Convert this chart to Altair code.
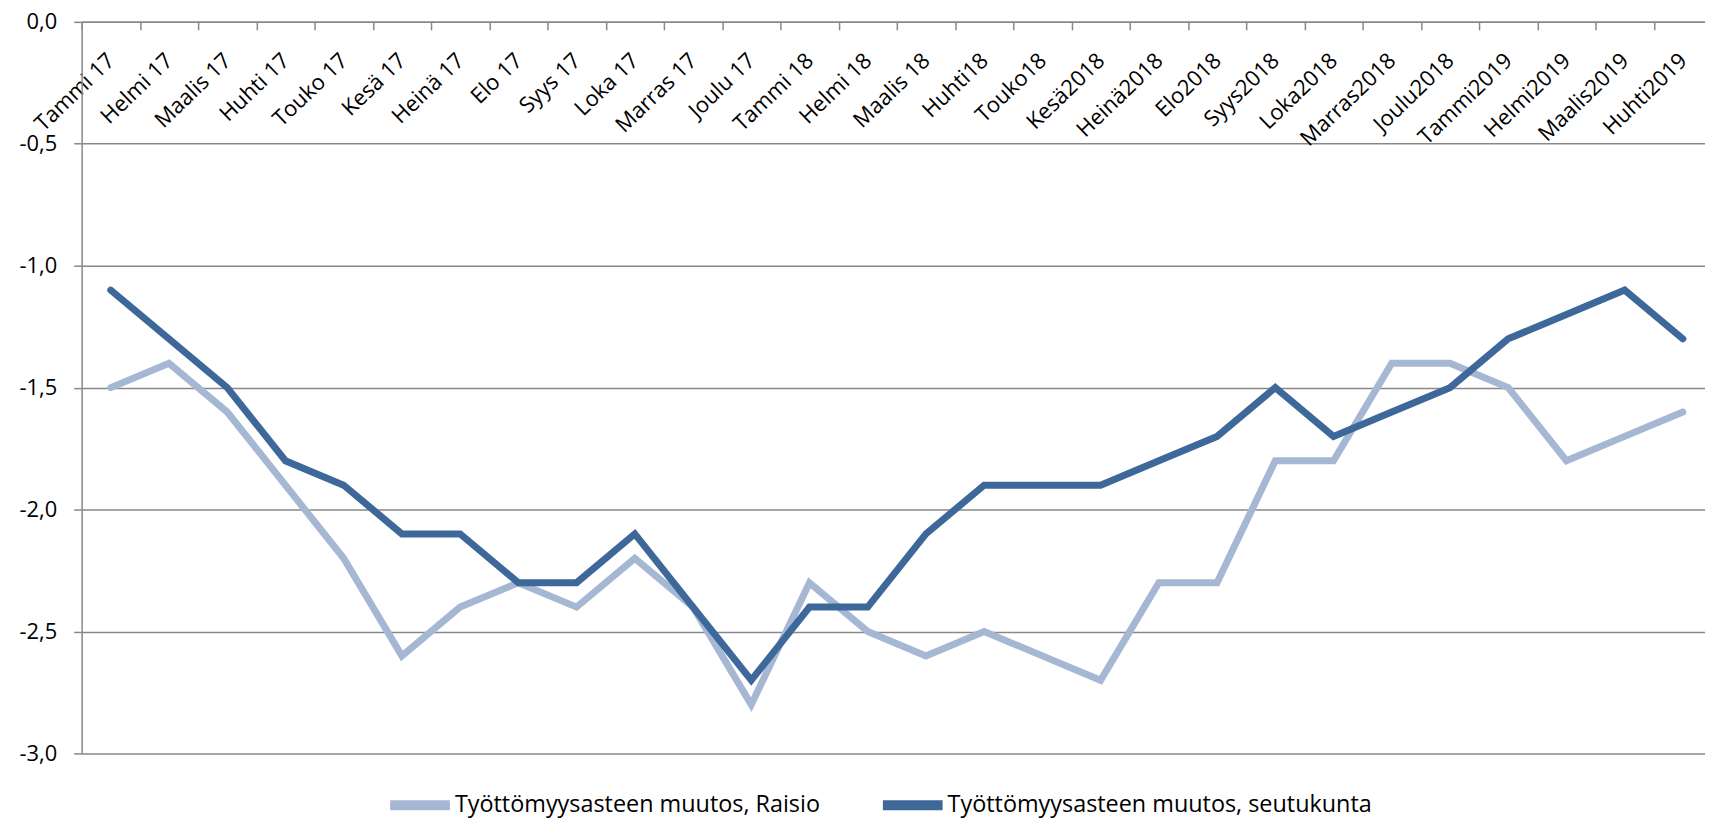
import altair as alt
import pandas as pd

months = ["Tammi 17", "Helmi 17", "Maalis 17", "Huhti 17", "Touko 17", "Kesä 17",
          "Heinä 17", "Elo 17", "Syys 17", "Loka 17", "Marras 17", "Joulu 17",
          "Tammi 18", "Helmi 18", "Maalis 18", "Huhti18", "Touko18", "Kesä2018",
          "Heinä2018", "Elo2018", "Syys2018", "Loka2018", "Marras2018", "Joulu2018",
          "Tammi2019", "Helmi2019", "Maalis2019", "Huhti2019"]

raisio = [-1.5, -1.4, -1.6, -1.9, -2.2, -2.6, -2.4, -2.3, -2.4, -2.2, -2.4, -2.8,
          -2.3, -2.5, -2.6, -2.5, -2.6, -2.7, -2.3, -2.3, -1.8, -1.8, -1.4, -1.4,
          -1.5, -1.8, -1.7, -1.6]

seutukunta = [-1.1, -1.3, -1.5, -1.8, -1.9, -2.1, -2.1, -2.3, -2.3, -2.1, -2.4, -2.7,
              -2.4, -2.4, -2.1, -1.9, -1.9, -1.9, -1.8, -1.7, -1.5, -1.7, -1.6, -1.5,
              -1.3, -1.2, -1.1, -1.3]

series_names = ["Työttömyysasteen muutos, Raisio", "Työttömyysasteen muutos, seutukunta"]
series_colors = ["#A6B7D4", "#3D6899"]
y_ticks = [0.0, -0.5, -1.0, -1.5, -2.0, -2.5, -3.0]

rows = []
for name, vals in zip(series_names, [raisio, seutukunta]):
    for m, v in zip(months, vals):
        rows.append({"kk": m, "arvo": v, "sarja": name})
df = pd.DataFrame(rows)

W, H = 1638, 735
FONT = "Open Sans"

x_enc = alt.X(
    "kk:N", sort=months, bandPosition=0.5,
    scale=alt.Scale(type="band", paddingInner=0, paddingOuter=0),
    axis=alt.Axis(orient="bottom", offset=-H, title=None, labelAngle=-44,
                  labelAlign="right", labelBaseline="middle", labelFont=FONT,
                  labelFontSize=22, labelColor="black", labelPadding=27,
                  tickBand="extent", tickSize=8, tickColor="#888888", tickWidth=1.5,
                  domainColor="#888888", domainWidth=1.5, grid=False,
                  labelOverlap=False, labelLimit=300),
)

y_enc = alt.Y(
    "arvo:Q",
    scale=alt.Scale(domain=[-3, 0], nice=False, zero=False),
    axis=alt.Axis(values=y_ticks, title=None, grid=True, gridColor="#888888",
                  gridWidth=1.5, domainColor="#888888", domainWidth=1.5,
                  tickColor="#888888", tickWidth=1.5, tickSize=8, labelPadding=17,
                  labelFont=FONT, labelFontSize=22, labelColor="black",
                  labelExpr="(datum.value < 0 ? '-' : '') + replace(format(abs(datum.value), '.1f'), '.', ',')"),
)

color_enc = alt.Color(
    "sarja:N",
    scale=alt.Scale(domain=series_names, range=series_colors),
    legend=alt.Legend(orient="none", legendX=305, legendY=752, direction="horizontal",
                      title=None, symbolType="stroke", symbolSize=3600,
                      symbolStrokeWidth=10, labelFont=FONT, labelFontSize=23.5,
                      labelColor="black", columnPadding=42, labelOffset=0,
                      labelLimit=600),
)

base = alt.Chart(df).mark_line(strokeWidth=7, strokeCap="round").encode(
    x=x_enc, y=y_enc, color=color_enc
)

light = base.transform_filter(alt.datum.sarja == series_names[0])
dark = base.transform_filter(alt.datum.sarja == series_names[1])

chart = alt.layer(light, dark).properties(
    width=W, height=H,
    autosize=alt.AutoSizeParams(type="none"),
    padding={"left": 74, "top": 12, "right": -7, "bottom": 65},
).configure_view(stroke=None)

chart.save("out.html", embed_options={"renderer": "svg", "actions": False})
